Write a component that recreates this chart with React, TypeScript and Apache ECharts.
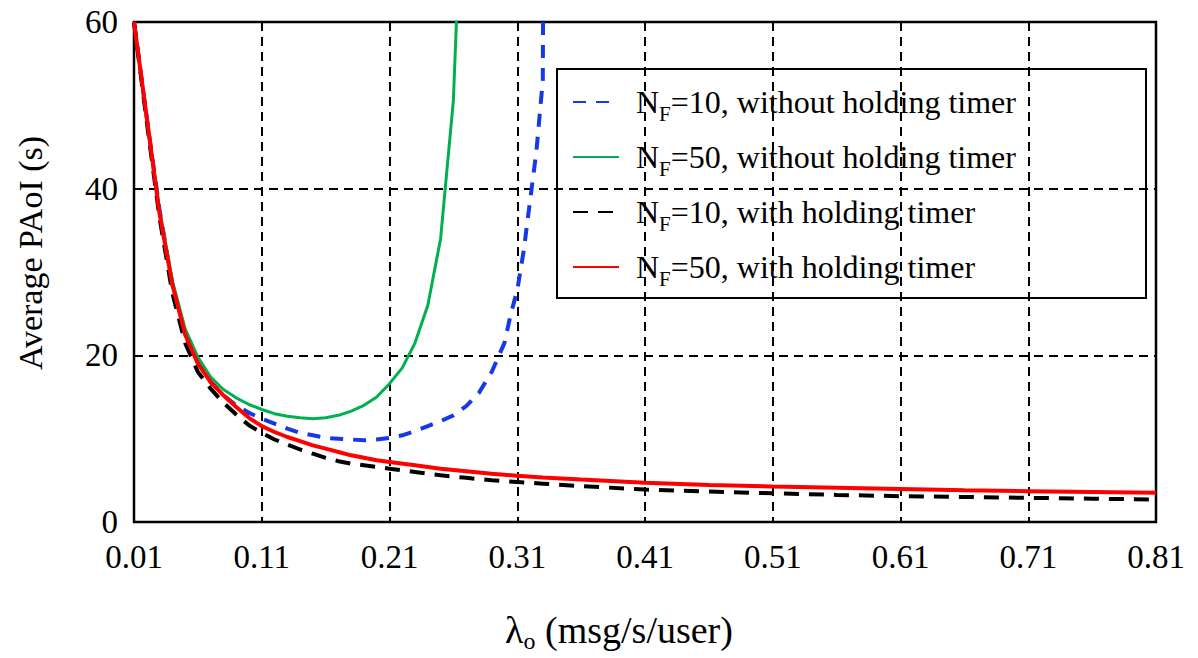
import React, { useEffect, useRef } from "react";
import * as echarts from "echarts";

const FONT = "Liberation Serif";

// x ticks: 0.01 .. 0.81 step 0.1 ; y ticks: 0 .. 60 step 20
const legendNames = [
  "NF=10, without holding timer",
  "NF=50, without holding timer",
  "NF=10, with holding timer",
  "NF=50, with holding timer",
];

// N_F = 10, without holding timer (blue dashed)
const xBlue = [
  0.01, 0.02, 0.03, 0.04, 0.05, 0.06, 0.07, 0.08, 0.09, 0.1, 0.11, 0.12, 0.13, 0.14, 0.15,
  0.16, 0.17, 0.18, 0.19, 0.2, 0.21, 0.22, 0.23, 0.24, 0.25, 0.26, 0.27, 0.28, 0.29, 0.3,
  0.305, 0.31, 0.315, 0.32, 0.325, 0.33, 0.331,
];
const yBlue = [
  60, 48.5, 37.5, 28.5, 22.5, 19.2, 16.8, 15.2, 14.0, 13.1, 12.4, 11.8, 11.2, 10.7, 10.4,
  10.1, 10.0, 9.9, 9.8, 9.9, 10.1, 10.4, 10.9, 11.5, 12.1, 12.8, 13.9, 15.5, 18.0, 21.5,
  25.0, 27.8, 32.5, 38.5, 44.5, 53, 90,
];

// N_F = 50, without holding timer (green solid)
const xGreen = [
  0.01, 0.02, 0.03, 0.04, 0.05, 0.06, 0.07, 0.08, 0.09, 0.1, 0.11, 0.12, 0.13, 0.14, 0.15,
  0.16, 0.17, 0.18, 0.19, 0.2, 0.21, 0.22, 0.23, 0.24, 0.25, 0.26, 0.27,
];
const yGreen = [
  60, 48.5, 37.5, 29, 23.2, 19.8, 17.4, 15.9, 14.9, 14.1, 13.5, 13.0, 12.7, 12.5, 12.4,
  12.5, 12.8, 13.3, 14.0, 15.0, 16.6, 18.5, 21.5, 26.0, 34.0, 50.6, 90,
];

// with holding timer (shared x grid)
const xHold = [
  0.01, 0.02, 0.03, 0.04, 0.05, 0.06, 0.07, 0.08, 0.09, 0.1, 0.11, 0.12, 0.13, 0.14, 0.15,
  0.16, 0.17, 0.18, 0.19, 0.2, 0.21, 0.23, 0.25, 0.27, 0.29, 0.31, 0.33, 0.36, 0.41, 0.46,
  0.51, 0.56, 0.61, 0.66, 0.71, 0.76, 0.81,
];
// N_F = 10, with holding timer (black dashed)
const yBlack = [
  60, 48, 36.5, 27.5, 21.5, 18.0, 16.0, 14.3, 12.9, 11.6, 10.7, 9.9, 9.3, 8.7, 8.2,
  7.7, 7.3, 7.0, 6.8, 6.6, 6.4, 6.0, 5.6, 5.3, 5.0, 4.8, 4.6, 4.3, 3.9, 3.65,
  3.45, 3.25, 3.1, 3.0, 2.9, 2.8, 2.7,
];
// N_F = 50, with holding timer (red solid)
const yRed = [
  60, 48.5, 37, 28.5, 22.5, 19, 16.8, 15.2, 13.8, 12.5, 11.5, 10.8, 10.2, 9.7, 9.2,
  8.8, 8.4, 8.0, 7.7, 7.4, 7.2, 6.8, 6.4, 6.1, 5.8, 5.55, 5.35, 5.1, 4.7, 4.45,
  4.25, 4.1, 3.95, 3.8, 3.7, 3.6, 3.5,
];

const pairs = (xs: number[], ys: number[]) => xs.map((x, i) => [x, ys[i]]);

export default function App() {
  const ref = useRef<HTMLDivElement>(null);

  useEffect(() => {
    if (!ref.current) return;
    const chart = echarts.init(ref.current, undefined, { renderer: "svg" });

    const gridLine = { show: true, lineStyle: { color: "#000", type: [9, 6], width: 2 } };
    const axisLabel = {
      color: "#000",
      fontSize: 33,
      fontFamily: FONT,
    };

    chart.setOption({
      animation: false,
      backgroundColor: "#fff",
      grid: {
        left: 134,
        right: 42,
        top: 22,
        bottom: 136,
        show: true,
        borderColor: "#000",
        borderWidth: 2.5,
      },
      xAxis: {
        type: "value",
        min: 0.01,
        max: 0.81,
        interval: 0.1,
        axisLine: { show: false },
        axisTick: { show: false },
        axisLabel: { ...axisLabel, margin: 18, formatter: (v: number) => v.toFixed(2) },
        splitLine: gridLine,
      },
      yAxis: {
        type: "value",
        min: 0,
        max: 60,
        interval: 20,
        axisLine: { show: false },
        axisTick: { show: false },
        axisLabel: { ...axisLabel, margin: 16 },
        splitLine: gridLine,
      },
      legend: {
        orient: "vertical",
        left: 572,
        top: 86,
        padding: 0,
        itemGap: 17,
        itemWidth: 46,
        itemHeight: 14,
        itemStyle: { opacity: 0 },
        data: legendNames,
        formatter: (name: string) => `{n0|N}{s|F}{m|${name.slice(2)}}`,
        textStyle: {
          color: "#000",
          fontFamily: FONT,
          fontSize: 32,
          rich: {
            n0: {
              fontFamily: FONT,
              fontSize: 32,
              lineHeight: 44,
              color: "#000",
              padding: [0, 0, 0, 12],
            },
            m: { fontFamily: FONT, fontSize: 32, lineHeight: 44, color: "#000" },
            s: {
              fontFamily: FONT,
              fontSize: 21,
              lineHeight: 21,
              verticalAlign: "bottom",
              color: "#000",
            },
          },
        },
      },
      graphic: [
        {
          type: "rect",
          shape: { x: 557, y: 69, width: 589, height: 229 },
          style: { fill: "none", stroke: "#000", lineWidth: 2 },
          z: 10,
        },
        {
          type: "text",
          x: 30,
          y: 253,
          rotation: Math.PI / 2,
          style: {
            text: "Average PAoI (s)",
            fontFamily: FONT,
            fontSize: 34,
            fill: "#000",
            align: "center",
            verticalAlign: "middle",
          },
        },
        {
          type: "text",
          x: 619,
          y: 630,
          style: {
            text: "{a|λ}{b|o}{a| (msg/s/user)}",
            fill: "#000",
            align: "center",
            verticalAlign: "middle",
            rich: {
              a: { fontFamily: FONT, fontSize: 38, lineHeight: 46, fill: "#000" },
              b: {
                fontFamily: FONT,
                fontSize: 24,
                lineHeight: 24,
                verticalAlign: "bottom",
                fill: "#000",
              },
            },
          },
        },
      ],
      series: [
        {
          name: legendNames[0],
          type: "line",
          data: pairs(xBlue, yBlue),
          symbol: "none",
          itemStyle: { color: "#1538E8" },
          lineStyle: { color: "#1538E8", width: 4, type: [13, 10] },
        },
        {
          name: legendNames[1],
          type: "line",
          data: pairs(xGreen, yGreen),
          symbol: "none",
          itemStyle: { color: "#00B050" },
          lineStyle: { color: "#00B050", width: 3 },
        },
        {
          name: legendNames[2],
          type: "line",
          data: pairs(xHold, yBlack),
          symbol: "none",
          itemStyle: { color: "#000" },
          lineStyle: { color: "#000", width: 4, type: [15, 10] },
        },
        {
          name: legendNames[3],
          type: "line",
          data: pairs(xHold, yRed),
          symbol: "none",
          itemStyle: { color: "#FF0000" },
          lineStyle: { color: "#FF0000", width: 4 },
        },
      ],
    });

    return () => chart.dispose();
  }, []);

  return (
    <div
      ref={ref}
      style={{ position: "absolute", left: 0, top: 0, width: 1198, height: 658 }}
    />
  );
}
